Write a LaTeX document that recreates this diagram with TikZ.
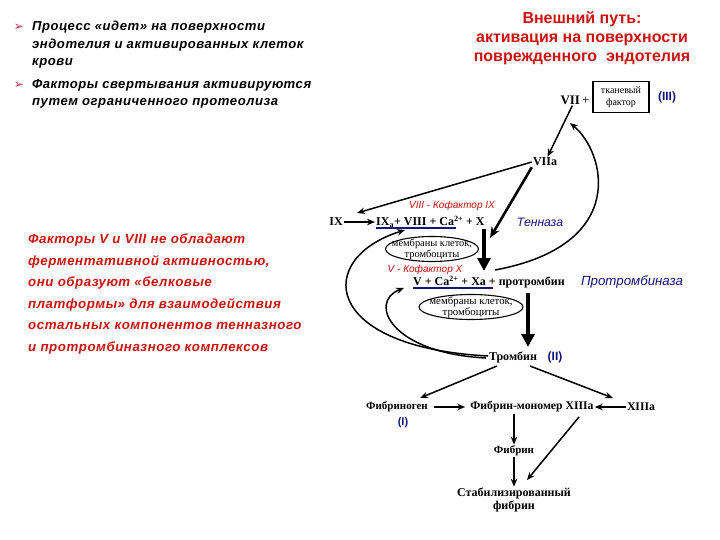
\documentclass[tikz,border=0pt]{standalone}
\usepackage{fontspec}
\setmainfont{Liberation Serif}
\newfontfamily\rus[LetterSpace=4]{Liberation Sans}
\newfontfamily\hd{Liberation Sans}
\newfontfamily\sym{DejaVu Sans}
\usetikzlibrary{arrows.meta,shapes.geometric,calc}
\definecolor{titlered}{RGB}{205,16,16}
\definecolor{navy}{RGB}{20,20,120}
\definecolor{bulletred}{RGB}{200,50,70}
\tikzset{
  dg/.style={font=\bfseries\fontsize{12}{14}\selectfont, inner sep=1pt},
  dgs/.style={font=\bfseries\fontsize{11}{13}\selectfont, inner sep=1pt},
  roman/.style={font=\hd\bfseries\fontsize{12}{14}\selectfont, text=navy, inner sep=1pt},
  enz/.style={font=\hd\itshape\fontsize{12.2}{14}\selectfont, text=navy},
  cof/.style={font=\hd\itshape\fontsize{10}{11}\selectfont, text=titlered},
  membtext/.style={align=center, inner sep=0pt, font=\fontsize{10.4}{10.8}\selectfont},
  arr/.style={line width=1.5pt, -{Stealth[length=8pt,width=6.5pt]}},
  fat/.style={line width=4pt, -{Triangle[length=13pt,width=13pt]}},
  mid/.style={line width=2.6pt, -{Stealth[length=11pt,width=9pt]}},
  uline/.style={navy, line width=1.8pt},
  bul/.style={font=\sym\fontsize{12}{12}\selectfont, text=bulletred},
  btext/.style={anchor=west, align=left, inner sep=0pt}
}
\begin{document}
\begin{tikzpicture}[x=1pt,y=-1pt]
\useasboundingbox (0,0) rectangle (720,540);
% left texts
\node[bul] (m1) at (19,27) {➢};
\node[btext, font=\rus\bfseries\itshape\fontsize{13.1}{17.5}\selectfont] (b1) at (32,45) {Процесс «идет» на поверхности\\эндотелия и активированных клеток\\крови};
\node[bul] (m2) at (19,85) {➢};
\node[btext, font=\rus\bfseries\itshape\fontsize{13.1}{17}\selectfont] (b2) at (32,93.5) {Факторы свертывания активируются\\путем ограниченного протеолиза};
\node[align=center, font=\hd\bfseries\fontsize{16}{19}\selectfont, text=titlered] (title) at (582,38) {Внешний путь:\\активация на поверхности\\поврежденного\ \ эндотелия};
\node[btext, font=\rus\bfseries\itshape\fontsize{13.3}{21.5}\selectfont, text=titlered] (note) at (28,294) {Факторы V и VIII не обладают\\ферментативной активностью,\\они образуют «белковые\\платформы» для взаимодействия\\остальных компонентов тенназного\\и протромбиназного комплексов};
% diagram
\node[dg, font=\bfseries\fontsize{13}{14}\selectfont] (vii) at (575,100) {VII\,{\mdseries +}};
\node[draw, line width=1.8pt, minimum width=56, minimum height=31, align=center, inner sep=1pt, font=\fontsize{10}{12.5}\selectfont] (tf) at (621,97) {тканевый\\фактор};
\node[roman] (iii) at (667,97) {(III)};
\node[dg] (viia) at (545,162) {VIIa};
\node[dg] (ix) at (336,222) {IX};
\node[dg, anchor=west] (ten) at (375,222) {IX\textsubscript{a}+ VIII + Ca\textsuperscript{2+} + X};
\node[cof] (cof9) at (452,206) {VIII - Кофактор IX};
\node[enz] (tenase) at (540,222) {Тенназа};
\node[membtext] (mem1) at (432,249) {мембраны клеток,\\тромбоциты};
\draw[line width=1.1pt] (mem1) ellipse [x radius=46.5pt, y radius=12.5pt];
\node[cof] (cof10) at (425,270) {V - Кофактор X};
\node[dg, anchor=west] (pro) at (412,282) {V + Ca\textsuperscript{2+} + Xa + протромбин};
\node[enz, font=\hd\itshape\fontsize{13.3}{14}\selectfont] (prot) at (632,282) {Протромбиназа};
\node[membtext, font=\fontsize{10.8}{11}\selectfont] (mem2) at (471,307) {мембраны клеток,\\тромбоциты};
\draw[line width=1.1pt] (mem2) ellipse [x radius=52pt, y radius=12.5pt];
\node[dg] (thr) at (513,357) {Тромбин};
\node[roman] (ii) at (555,357) {(II)};
\node[dgs] (fbg) at (397,407) {Фибриноген};
\node[roman, font=\hd\bfseries\fontsize{11}{13}\selectfont] (i1) at (403,423) {(I)};
\node[dgs, font=\bfseries\fontsize{11.7}{13}\selectfont] (fm) at (532,407) {Фибрин-мономер XIIIa};
\node[dgs, font=\bfseries\fontsize{11.7}{13}\selectfont] (x13) at (641,407) {XIIIa};
\node[dgs] (fib) at (514,451) {Фибрин};
\node[align=center, font=\bfseries\fontsize{12}{13}\selectfont, inner sep=1pt] (stab) at (514,500) {Стабилизированный\\фибрин};
% underlines
\draw[uline] (376,228) -- (456,228);
\draw[uline] (413,288) -- (493,288);
% coordinates
\coordinate (tenIn) at (490,238);
\coordinate (bigS) at (495,270);
\coordinate (bigE) at (570,123);
\coordinate (ixIn) at (357,213);
\coordinate (o1) at (488,356);
\coordinate (o2) at (405,230);
\coordinate (i1s) at (486,358);
\coordinate (i2) at (404,288);
\coordinate (thrL) at (497,366);
\coordinate (thrR) at (530,366);
\coordinate (fbgIn) at (420,398);
\coordinate (x13In) at (613,398);
\coordinate (fmX) at (579,417);
\coordinate (stabIn) at (527,480);
% connectors
\draw[arr] (vii) -- (viia);
\draw[arr] (viia.west) -- (ixIn);
\draw[mid] (viia.south west) -- (tenIn);
\draw[arr] (ix) -- (ten);
\draw[arr] (bigS) .. controls (630,245) and (605,152) .. (bigE);
\draw[fat] (484,229) -- (484,271);
\draw[fat] (528,293) -- (528,347);
\draw[arr] (o1) .. controls (320,347) and (315,258) .. (o2);
\draw[arr] (i1s) .. controls (390,353) and (368,302) .. (i2);
\draw[arr] (thrL) -- (fbgIn);
\draw[arr] (thrR) -- (x13In);
\draw[arr, shorten <=5pt, shorten >=4pt] (fbg) -- (fm);
\draw[arr] (x13) -- (fm);
\draw[arr] (fib.north |- fm.south) -- (fib);
\draw[arr] (fib) -- (stab);
\draw[arr] (fmX) -- (stabIn);
\end{tikzpicture}
\end{document}
